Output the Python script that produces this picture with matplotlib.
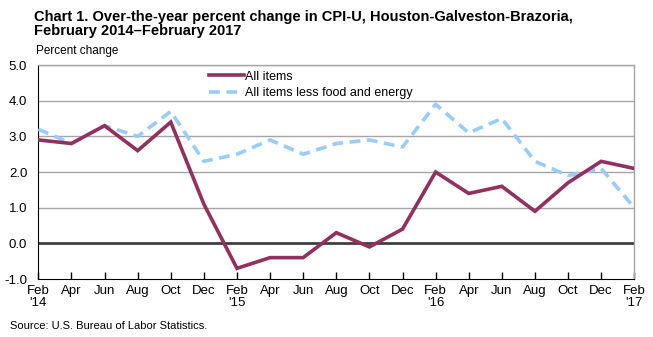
import matplotlib
matplotlib.use("Agg")
import matplotlib.pyplot as plt
import numpy as np

plt.rcParams['font.family'] = ['Liberation Sans', 'DejaVu Sans']

# bimonthly observations, Feb 2014 - Feb 2017
months = ["Feb\n'14", "Apr", "Jun", "Aug", "Oct", "Dec",
          "Feb\n'15", "Apr", "Jun", "Aug", "Oct", "Dec",
          "Feb\n'16", "Apr", "Jun", "Aug", "Oct", "Dec",
          "Feb\n'17"]
all_items = [2.9, 2.8, 3.3, 2.6, 3.4, 1.1,
             -0.7, -0.4, -0.4, 0.3, -0.1, 0.4,
             2.0, 1.4, 1.6, 0.9, 1.7, 2.3,
             2.1]
core = [3.2, 2.8, 3.3, 3.0, 3.7, 2.3,
        2.5, 2.9, 2.5, 2.8, 2.9, 2.7,
        3.9, 3.1, 3.5, 2.3, 1.9, 2.1,
        1.0]
yticks = [-1.0, 0.0, 1.0, 2.0, 3.0, 4.0, 5.0]

fig = plt.figure(figsize=(6.53, 3.37), dpi=100)
ax = fig.add_axes([0.0587, 0.172, 0.9126, 0.635])

x = np.arange(len(months))
for y in yticks[1:]:
    if y == 0:
        continue
    ax.axhline(y, color='#a6a6a6', lw=1.0, zorder=1)
ax.axhline(0, color='#404040', lw=2.0, zorder=2)

ax.plot(x, all_items, color='#943060', lw=2.6, label='All items', zorder=4,
        solid_joinstyle='miter')
ax.plot(x, core, color='#99ccff', lw=2.6, ls=(0, (3.0, 1.8)),
        label='All items less food and energy', zorder=3)

ax.set_xlim(0, len(months) - 1)
ax.set_ylim(-1.0, 5.0)
ax.set_yticks(yticks)
ax.set_yticklabels([f"{v:.1f}" for v in yticks], fontsize=9.5)
ax.set_xticks(x)
ax.set_xticklabels(months, fontsize=9.5, linespacing=1.0)
ax.tick_params(axis='x', direction='in', length=5, width=1, color='black', pad=4)
ax.tick_params(axis='y', length=0, pad=8)

for side in ['top', 'right']:
    ax.spines[side].set_color('#a6a6a6')
    ax.spines[side].set_linewidth(1.0)
ax.spines['left'].set_color('black')
ax.spines['bottom'].set_color('black')

leg = ax.legend(loc='upper left', bbox_to_anchor=(0.278, 0.997), frameon=False,
                fontsize=9, handlelength=2.8, handletextpad=0.1,
                labelspacing=0.35, borderaxespad=0)

fig.text(0.052, 0.928, "Chart 1. Over-the-year percent change in CPI-U, Houston-Galveston-Brazoria,\nFebruary 2014\u2013February 2017",
         fontsize=10.5, fontweight='bold', va='center', linespacing=1.0)
fig.text(0.055, 0.848, "Percent change", fontsize=8.5, va='center')
fig.text(0.015, 0.033, "Source: U.S. Bureau of Labor Statistics.", fontsize=8, va='center')

fig.savefig("out.png", dpi=100)
